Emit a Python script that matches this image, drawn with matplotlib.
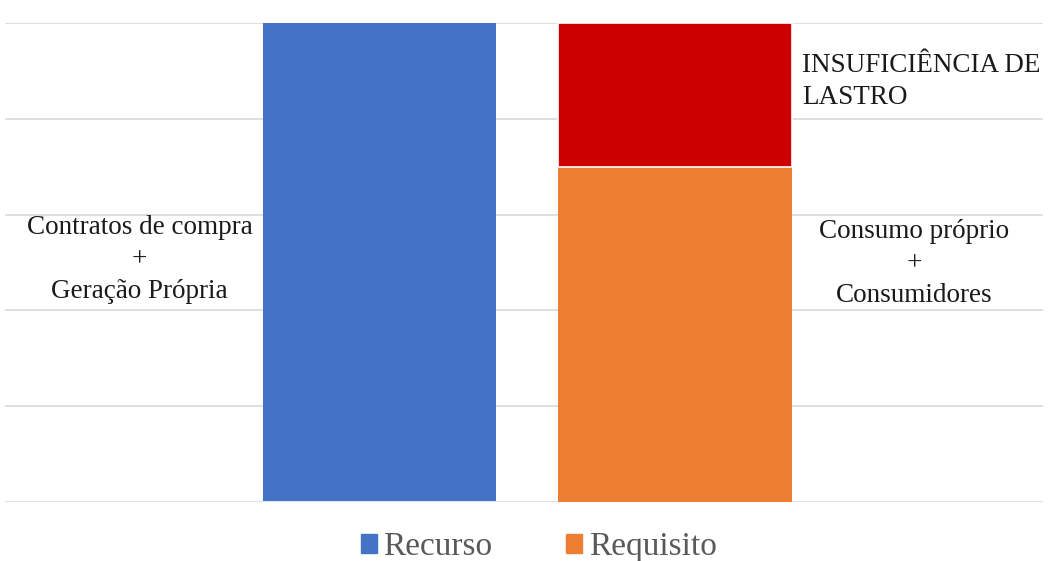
import matplotlib.pyplot as plt
from matplotlib.patches import Patch

# categories and stacked values
categories = ["Recurso", "Requisito"]
recurso = [5.0, 0.0]
requisito = [0.0, 3.5]
insuficiencia = [0.0, 1.5]

blue = "#4472C4"
orange = "#ED7D31"
red = "#CC0000"

plt.rcParams['font.family'] = ['Liberation Serif', 'DejaVu Serif']

fig = plt.figure(figsize=(10.48, 5.61), dpi=100)
ax = fig.add_axes([5 / 1048, 59 / 561, 1038 / 1048, 479 / 561])

x = [0, 1]
w = 0.79
ax.bar(x, recurso, width=w, color=blue, zorder=2)
ax.bar(x, requisito, width=w, color=orange, zorder=2)
ax.bar(x, insuficiencia, width=w, bottom=requisito, color=red,
       edgecolor="white", linewidth=1.2, zorder=2)

ax.set_xlim(-1.267, 2.245)
ax.set_ylim(0, 5)
ax.set_yticks([0, 1, 2, 3, 4, 5])
ax.grid(axis='y', color="#d9d9d9", linewidth=1.2, zorder=0)
ax.tick_params(left=False, bottom=False, labelleft=False, labelbottom=False)
for s in ax.spines.values():
    s.set_visible(False)

# annotations
ax.text(-0.812, 2.53, "Contratos de compra\n+\nGeração Própria", ha='center', va='center',
        fontsize=19.5, linespacing=1.35, color="#1a1a1a")
ax.text(1.808, 2.49, "Consumo próprio\n+\nConsumidores", ha='center', va='center',
        fontsize=19.5, linespacing=1.35, color="#1a1a1a")
ax.text(1.43, 4.39, "INSUFICIÊNCIA DE\nLASTRO", ha='left', va='center',
        fontsize=19.5, linespacing=1.35, color="#1a1a1a")

handles = [Patch(color=blue), Patch(color=orange)]
fig.legend(handles, categories, loc='center', bbox_to_anchor=(0.514, 14 / 561), ncol=2,
           frameon=False, fontsize=24, handlelength=0.48, handleheight=0.52,
           handletextpad=0.2, columnspacing=2.2, labelcolor="#595959",
           borderpad=0.1)

fig.savefig("out.png", dpi=100)
